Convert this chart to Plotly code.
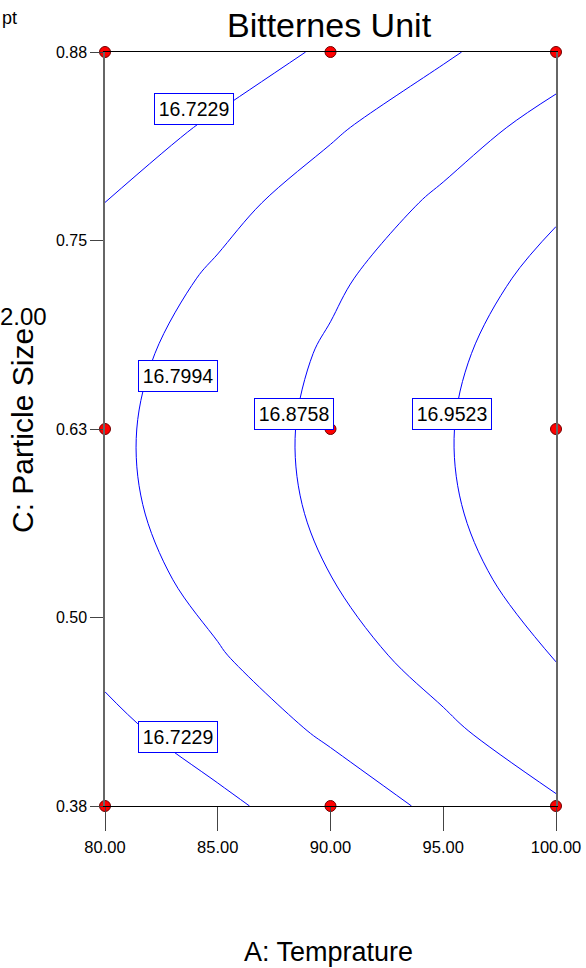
import plotly.graph_objects as go

# Factor grid (A: temperature, C: particle size) and predicted bitterness units
temperature = [80.0, 85.0, 90.0, 95.0, 100.0]
particle_size = [0.375, 0.425, 0.475, 0.525, 0.575, 0.625, 0.675, 0.725, 0.775, 0.825, 0.875]
bitterness = [
    [16.6546, 16.7079, 16.7611, 16.8144, 16.8676],
    [16.7036, 16.7571, 16.8105, 16.8640, 16.9174],
    [16.7411, 16.7947, 16.8484, 16.9020, 16.9557],
    [16.7670, 16.8208, 16.8747, 16.9285, 16.9824],
    [16.7813, 16.8354, 16.8894, 16.9435, 16.9975],
    [16.7841, 16.8384, 16.8926, 16.9469, 17.0011],
    [16.7753, 16.8298, 16.8842, 16.9387, 16.9931],
    [16.7550, 16.8096, 16.8643, 16.9189, 16.9736],
    [16.7231, 16.7779, 16.8328, 16.8876, 16.9425],
    [16.6796, 16.7347, 16.7897, 16.8448, 16.8998],
    [16.6246, 16.6798, 16.7351, 16.7904, 16.8456],
]

# Contour levels and where each label box sits
contour_levels = [16.7229, 16.7994, 16.8758, 16.9523]
label_level_index = [0, 1, 2, 3, 0]
label_temperature = [83.95, 83.24, 88.36, 95.39, 83.24]
label_particle = [0.8375, 0.660, 0.635, 0.635, 0.4208]

# Design points
design_temperature = [80, 90, 100, 80, 90, 100, 80, 90, 100]
design_particle = [0.875, 0.875, 0.875, 0.625, 0.625, 0.625, 0.375, 0.375, 0.375]

# Axis ticks
x_tick_values = [80, 85, 90, 95, 100]
x_tick_text = ["80.00", "85.00", "90.00", "95.00", "100.00"]
y_tick_values = [0.375, 0.5, 0.625, 0.75, 0.875]
y_tick_text = ["0.38", "0.50", "0.63", "0.75", "0.88"]

SANS = "Liberation Sans, Arial, sans-serif"

W, H = 586, 968
L, R, T, B = 105, 30, 52, 162
PW, PH = W - L - R, H - T - B


def px_x(px):
    return (px - L) / PW


def px_y(py):
    return (H - B - py) / PH


fig = go.Figure()

for level in contour_levels:
    fig.add_trace(go.Contour(
        x=temperature,
        y=particle_size,
        z=bitterness,
        autocontour=False,
        contours=dict(start=level, end=level, size=1, coloring="none", showlabels=False),
        line=dict(color="#0000ff", width=1, smoothing=1),
        showscale=False,
        hoverinfo="skip",
    ))

fig.add_trace(go.Scatter(
    x=design_temperature,
    y=design_particle,
    mode="markers",
    marker=dict(symbol="circle", size=11, color="#ff0000",
                line=dict(color="#700000", width=1)),
    cliponaxis=False,
    hoverinfo="skip",
    showlegend=False,
))

annotations = []
for i, lx, ly in zip(label_level_index, label_temperature, label_particle):
    annotations.append(dict(
        x=lx, y=ly, xref="x", yref="y",
        text=f"{contour_levels[i]:.4f}",
        showarrow=False,
        font=dict(family=SANS, size=19.5, color="#000000"),
        bgcolor="#ffffff",
        bordercolor="#0000ff",
        borderwidth=1,
        borderpad=1,
        width=76,
        height=28,
        xanchor="center", yanchor="middle",
    ))

annotations += [
    dict(text="Bitternes Unit", x=px_x(329.5), y=px_y(25), xref="paper", yref="paper",
         showarrow=False, xanchor="center", yanchor="middle",
         font=dict(family=SANS, size=34, color="#000000")),
    dict(text="A: Temprature", x=px_x(328), y=px_y(952), xref="paper", yref="paper",
         showarrow=False, xanchor="center", yanchor="middle",
         font=dict(family=SANS, size=27, color="#000000")),
    dict(text="C: Particle Size", x=px_x(23), y=px_y(431), xref="paper", yref="paper",
         showarrow=False, xanchor="center", yanchor="middle", textangle=-90,
         font=dict(family=SANS, size=30, color="#000000")),
    dict(text="2.00", x=px_x(23), y=px_y(316), xref="paper", yref="paper",
         showarrow=False, xanchor="center", yanchor="middle",
         font=dict(family=SANS, size=24, color="#000000")),
    dict(text="pt", x=px_x(19), y=px_y(18), xref="paper", yref="paper",
         showarrow=False, xanchor="right", yanchor="middle",
         font=dict(family=SANS, size=18, color="#000000")),
]

fig.update_layout(
    width=W, height=H, autosize=False,
    margin=dict(l=L, r=R, t=T, b=B, pad=0, autoexpand=False),
    paper_bgcolor="#ffffff",
    plot_bgcolor="#ffffff",
    showlegend=False,
    annotations=annotations,
    xaxis=dict(
        range=[80, 100], showgrid=False, zeroline=False, automargin=False,
        showline=True, linecolor="#000000", linewidth=1.3, mirror=True,
        ticks="outside", ticklen=24, tickwidth=1, tickcolor="#444444",
        tickvals=x_tick_values, ticktext=x_tick_text,
        tickfont=dict(family=SANS, size=16.5, color="#000000"),
        ticklabelstandoff=2,
    ),
    yaxis=dict(
        range=[0.375, 0.875], showgrid=False, zeroline=False, automargin=False,
        showline=True, linecolor="#666666", linewidth=1.5, mirror=True,
        ticks="outside", ticklen=13, tickwidth=1, tickcolor="#444444",
        tickvals=y_tick_values, ticktext=y_tick_text,
        tickfont=dict(family=SANS, size=16, color="#000000"),
    ),
)

fig.write_html("out.html")
